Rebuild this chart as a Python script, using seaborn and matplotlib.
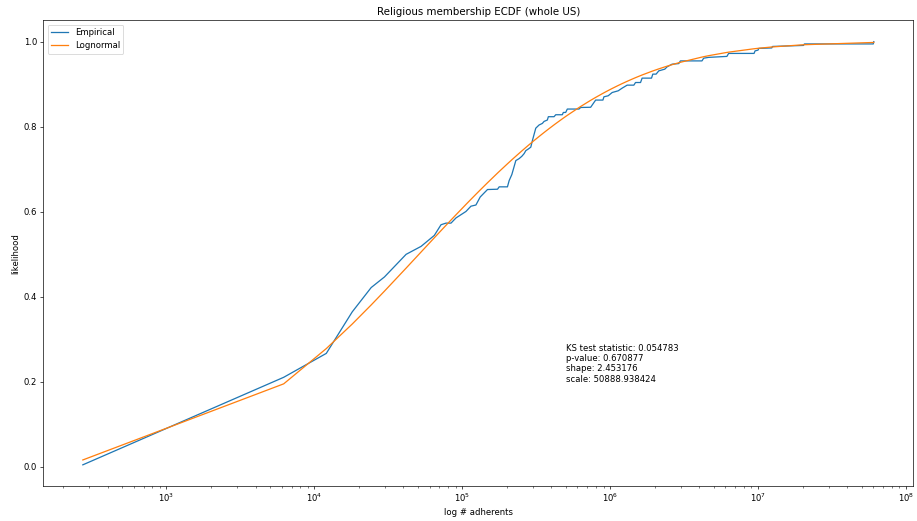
import math

import matplotlib
matplotlib.use("Agg")
import matplotlib.pyplot as plt
import numpy as np
import pandas as pd
import seaborn as sns

# Adherent counts (sorted) and empirical cumulative likelihood at each count
adherents = [
    272, 6200, 12030, 18010, 24190, 29740, 41660, 52580, 64640, 71730,
    77530, 83780, 90560, 105760, 114300, 123500, 132000, 147900, 172800, 177400,
    201700, 207200, 216000, 229800, 242000, 252300, 261500, 268500, 279500, 290100,
    297400, 313500, 330000, 347300, 356700, 375400, 381300, 416600, 427800, 474000,
    481400, 499500, 512100, 614300, 630600, 736600, 796000, 891500, 905600, 967800,
    1030000, 1131000, 1203000, 1300000, 1443000, 1481000, 1601000, 1641000, 1899000, 1938000,
    2040000, 2127000, 2335000, 2420000, 2615000, 2901000, 2979000, 4166000, 4278000, 4623000,
    6142000, 6306000, 9370000, 9515000, 9970000, 10090000, 12350000, 12490000, 20210000, 20520000,
    59910000, 60400000,
]
empirical = [
    0.005, 0.2108, 0.2670, 0.3646, 0.4218, 0.4467, 0.4999, 0.5186, 0.5444, 0.5695,
    0.5733, 0.5733, 0.5855, 0.6007, 0.6131, 0.6159, 0.6347, 0.6523, 0.6530, 0.6586,
    0.6586, 0.6734, 0.6875, 0.7203, 0.7250, 0.7304, 0.7367, 0.7437, 0.7477, 0.7519,
    0.7672, 0.7965, 0.8040, 0.8077, 0.8124, 0.8157, 0.8235, 0.8235, 0.8281, 0.8281,
    0.8335, 0.8335, 0.8415, 0.8415, 0.8452, 0.8457, 0.8626, 0.8626, 0.8703, 0.8727,
    0.8804, 0.8844, 0.8907, 0.8977, 0.8977, 0.9039, 0.9039, 0.9142, 0.9142, 0.9236,
    0.9236, 0.9313, 0.9353, 0.9407, 0.9470, 0.9484, 0.9547, 0.9547, 0.9611, 0.9630,
    0.9653, 0.9723, 0.9723, 0.9782, 0.9801, 0.9841, 0.9852, 0.9887, 0.9911, 0.9946,
    0.9946, 1.0,
]

# Fitted lognormal parameters and goodness-of-fit results
ks_stat = 0.054783
p_value = 0.670877
shape = 2.453176
scale = 50888.938424


def lognorm_cdf(x, s, sc):
    return 0.5 * (1.0 + math.erf(math.log(x / sc) / (s * math.sqrt(2.0))))


lognormal = [lognorm_cdf(x, shape, scale) for x in adherents]

df = pd.DataFrame({"adherents": adherents, "empirical": empirical, "lognormal": lognormal})

fig = plt.figure(figsize=(15, 521 / (917 / 15)), dpi=917 / 15)
ax = fig.add_axes([0.0472, 0.0672, 0.996 - 0.0472, 0.9607 - 0.0672])

sns.lineplot(data=df, x="adherents", y="empirical", ax=ax, color="#1f77b4",
             label="Empirical", estimator=None, sort=False, linewidth=1.5)
sns.lineplot(data=df, x="adherents", y="lognormal", ax=ax, color="#ff7f0e",
             label="Lognormal", estimator=None, sort=False, linewidth=1.5)

ax.set_xscale("log")
ax.set_xlabel("log # adherents")
ax.set_ylabel("likelihood")
ax.set_title("Religious membership ECDF (whole US)")
ax.legend(loc="upper left")

ax.text(5e5, 0.2,
        "KS test statistic: %f\np-value: %f\nshape: %f\nscale: %f"
        % (ks_stat, p_value, shape, scale))

fig.savefig("out.png", dpi=917 / 15)
